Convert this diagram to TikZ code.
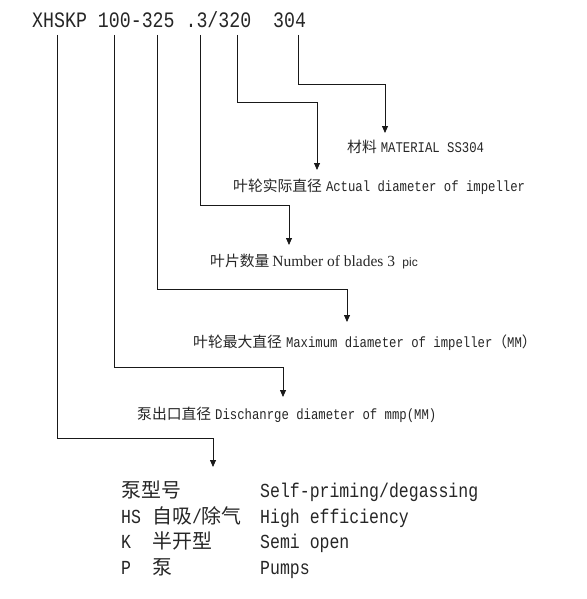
\documentclass[tikz,border=0pt]{standalone}
\usepackage{fontspec}
\setmainfont[FakeStretch=0.83]{Liberation Mono}
\newfontfamily\cjk{Noto Sans CJK SC}
\newfontfamily\serifb{Liberation Serif}
\newfontfamily\sansb{Liberation Sans}
\usetikzlibrary{arrows.meta}
\tikzset{
  txt/.style={inner sep=0pt, anchor=base west, text=black!85},
  mid/.style={txt, font=\fontsize{14.8}{16}\selectfont},
  big/.style={txt, font=\fontsize{19.9}{22}\selectfont},
  conn/.style={draw=black!90, line width=0.8pt, -{Triangle[width=6pt,length=7pt]}},
}
\begin{document}
\begin{tikzpicture}[x=1pt,y=-1pt]
\useasboundingbox (0,0) rectangle (586,599);
% top code
\node[txt, font=\fontsize{22}{24}\selectfont] (code) at (32,28) {XHSKP~100-325~.3/320~~304};
% start points
\coordinate (s1) at (57,35);
\coordinate (s2) at (114,35);
\coordinate (s3) at (157,35);
\coordinate (s4) at (200,35);
\coordinate (s5) at (237,35);
\coordinate (s6) at (298,35);
% bends and tips
\coordinate (h6) at (385,84);  \coordinate (t6) at (385,133);
\coordinate (h5) at (317,102); \coordinate (t5) at (317,170);
\coordinate (h4) at (289,205); \coordinate (t4) at (289,245);
\coordinate (h3) at (347,289); \coordinate (t3) at (347,322);
\coordinate (h2) at (283,367); \coordinate (t2) at (283,397);
\coordinate (h1) at (213,438); \coordinate (t1) at (213,467);
% labels
\node[mid] (l6) at (347,152) {{\cjk 材料}\hspace{4pt}MATERIAL SS304};
\node[mid] (l5) at (233,191) {{\cjk 叶轮实际直径}\hspace{4pt}Actual diameter of impeller};
\node[mid] (l4) at (210,266) {{\cjk 叶片数量}\hspace{3pt}{\serifb\fontsize{15.5}{16}\selectfont Number of blades 3} {\sansb\fontsize{12}{13}\selectfont pic}};
\node[mid] (l3) at (193,347) {{\cjk 叶轮最大直径}\hspace{4pt}Maximum diameter of impeller{\cjk （}MM{\cjk ）}};
\node[mid] (l2) at (137,419) {{\cjk 泵出口直径}\hspace{4pt}Dischanrge diameter of mmp(MM)};
% connectors
\draw[conn] (s6) |- (h6) -- (t6);
\draw[conn] (s5) |- (h5) -- (t5);
\draw[conn] (s4) |- (h4) -- (t4);
\draw[conn] (s3) |- (h3) -- (t3);
\draw[conn] (s2) |- (h2) -- (t2);
\draw[conn] (s1) |- (h1) -- (t1);
% table
\node[big] (r1a) at (121,497) {{\cjk 泵型号}};
\node[big] (r2a) at (121,523) {HS};
\node[big] (r2b) at (152,523) {{\cjk 自吸}/{\cjk 除气}};
\node[big] (r3a) at (121,548) {K};
\node[big] (r3b) at (152,548) {{\cjk 半开型}};
\node[big] (r4a) at (121,574) {P};
\node[big] (r4b) at (152,574) {{\cjk 泵}};
\node[big] (r1c) at (260,497) {Self-priming/degassing};
\node[big] (r2c) at (260,523) {High efficiency};
\node[big] (r3c) at (260,548) {Semi open};
\node[big] (r4c) at (260,574) {Pumps};
\end{tikzpicture}
\end{document}
